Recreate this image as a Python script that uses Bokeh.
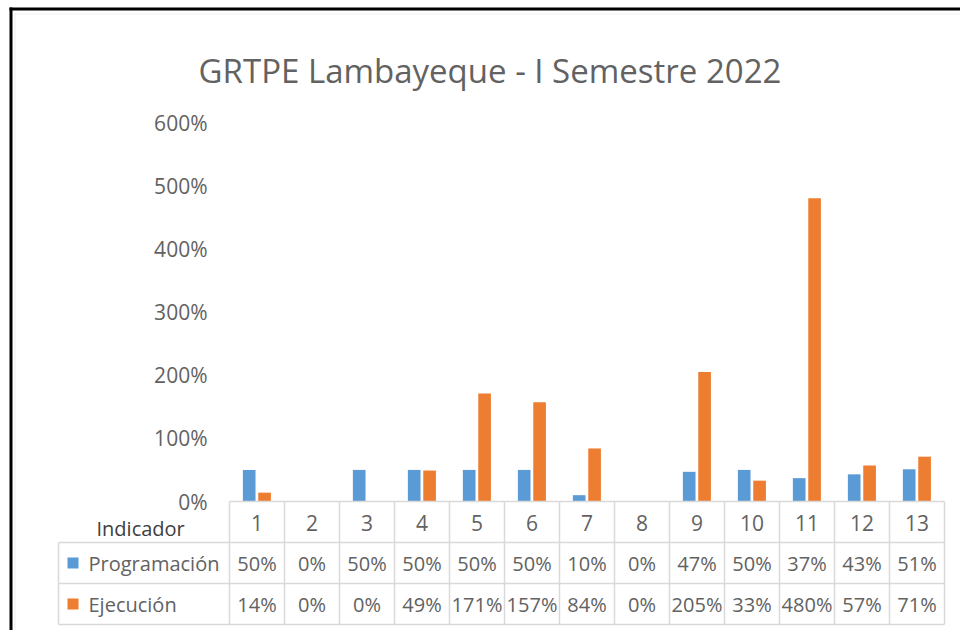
from bokeh.plotting import figure
from bokeh.models import ColumnDataSource, Range1d
from bokeh.transform import dodge
from bokeh.core.properties import value
from bokeh.embed import file_html
from bokeh.resources import INLINE

# ---- data ----
indicadores = ["1", "2", "3", "4", "5", "6", "7", "8", "9", "10", "11", "12", "13"]
programacion = [50, 0, 50, 50, 50, 50, 10, 0, 47, 50, 37, 43, 51]
ejecucion = [14, 0, 0, 49, 171, 157, 84, 0, 205, 33, 480, 57, 71]
y_ticks = [0, 100, 200, 300, 400, 500, 600]
series_names = ["Programación", "Ejecución"]
title_text = "GRTPE Lambayeque - I Semestre 2022"
header_text = "Indicador"

BLUE = "#5B9BD5"
ORANGE = "#ED7D31"
TXT = "#626262"
GRID = "#D9D9D9"
FONT = value("Open Sans")

W, H = 960, 630
# plot-area placement in pixels
FL, FR, FT, FB = 229, 944, 122, 501
n = len(indicadores)
xs = list(range(1, n + 1))


def px2x(px):
    return 0.5 + (px - FL) * n / (FR - FL)


def py2y(py):
    return (FB - py) * 600.0 / (FB - FT)


p = figure(width=W, height=H, output_backend="svg", toolbar_location=None,
           x_range=Range1d(px2x(0), px2x(W)), y_range=Range1d(py2y(H), py2y(0)),
           x_axis_location=None, y_axis_location=None, min_border=0)
p.title = None
p.outline_line_color = None
p.background_fill_color = "white"
p.border_fill_color = "white"
p.xgrid.visible = False
p.ygrid.visible = False

src = ColumnDataSource(dict(
    x=xs, lbl=indicadores, prog=programacion, ejec=ejecucion,
    prog_lbl=[f"{v}%" for v in programacion],
    ejec_lbl=[f"{v}%" for v in ejecucion],
))

# bars
p.vbar(x=dodge("x", -0.142, range=p.x_range), top="prog", width=0.23,
       source=src, fill_color=BLUE, line_color=None)
p.vbar(x=dodge("x", 0.138, range=p.x_range), top="ejec", width=0.23,
       source=src, fill_color=ORANGE, line_color=None)

# value axis labels
p.text(x=[px2x(207)] * len(y_ticks), y=y_ticks, text=[f"{t}%" for t in y_ticks],
       text_align="right", text_baseline="middle", text_font=FONT,
       text_font_size="21px", text_color=TXT)

# category labels (header row of the data table)
p.text(x="x", y=py2y(522), text="lbl", source=src, text_align="center",
       text_baseline="middle", text_font=FONT, text_font_size="21px", text_color=TXT)

# table lines
left_x = px2x(58)
rows_y = [py2y(v) for v in (542, 583, 624)]
top_y = 0
x0, y0, x1, y1 = [0.5], [top_y], [n + 0.5], [top_y]
for ry in rows_y:
    x0.append(left_x); x1.append(n + 0.5); y0.append(ry); y1.append(ry)
for cx in [i + 0.5 for i in range(0, n + 1)]:
    x0.append(cx); x1.append(cx); y0.append(top_y); y1.append(rows_y[-1])
x0.append(left_x); x1.append(left_x); y0.append(rows_y[0]); y1.append(rows_y[-1])
p.segment(x0=x0, y0=y0, x1=x1, y1=y1, line_color=GRID, line_width=1.5)

# table values
p.text(x="x", y=py2y(562.5), text="prog_lbl", source=src, text_align="center",
       text_baseline="middle", text_font=FONT, text_font_size="20px", text_color=TXT)
p.text(x="x", y=py2y(603.5), text="ejec_lbl", source=src, text_align="center",
       text_baseline="middle", text_font=FONT, text_font_size="20px", text_color=TXT)

# row headers with legend keys
row_y = [py2y(562.5), py2y(603.5)]
p.scatter(x=[px2x(72.5)] * 2, y=row_y, marker="square", size=11,
          fill_color=[BLUE, ORANGE], line_color=None)
p.text(x=[px2x(88)] * 2, y=row_y, text=series_names, text_align="left",
       text_baseline="middle", text_font=FONT, text_font_size="20px", text_color=TXT)

p.text(x=[px2x(96)], y=[py2y(528)], text=[header_text], text_align="left",
       text_baseline="middle", text_font=FONT, text_font_size="20px",
       text_color="#404040")

# title
p.text(x=[px2x(489.5)], y=[py2y(70)], text=[title_text], text_align="center",
       text_baseline="middle", text_font=FONT, text_font_size="33px", text_color=TXT)

# outer frame lines (black left/top, faint inner)
p.segment(x0=[px2x(10.5), px2x(9)], y0=[py2y(7), py2y(8.5)],
          x1=[px2x(10.5), px2x(W + 5)], y1=[py2y(H + 5), py2y(8.5)],
          line_color="black", line_width=3)
p.segment(x0=[px2x(14.5), px2x(14)], y0=[py2y(13), py2y(13.5)],
          x1=[px2x(14.5), px2x(W + 5)], y1=[py2y(H + 5), py2y(13.5)],
          line_color="#EEEEEE", line_width=1)

open("out.html", "w").write(file_html(p, INLINE))
